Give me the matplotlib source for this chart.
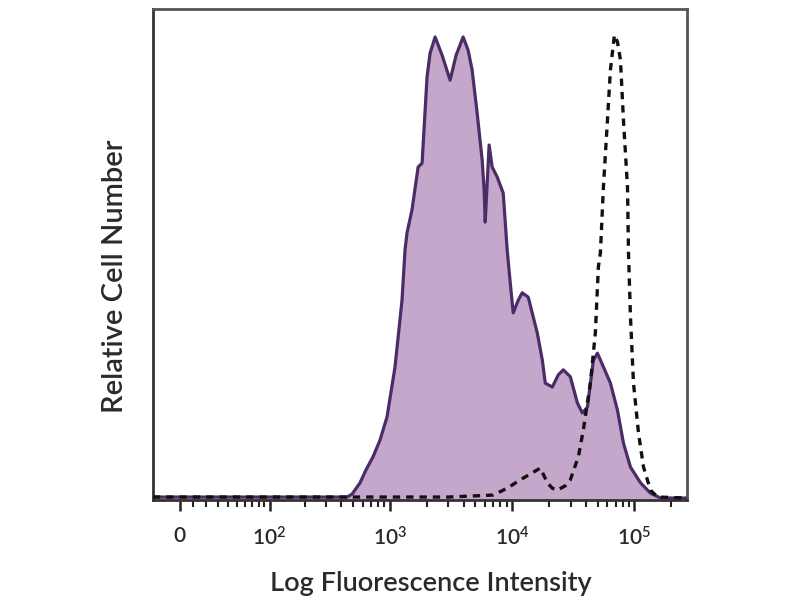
import matplotlib
matplotlib.use("Agg")
import matplotlib.pyplot as plt
import numpy as np

plt.rcParams['font.family'] = ['Lato', 'DejaVu Sans']
plt.rcParams['mathtext.fontset'] = 'custom'
plt.rcParams['mathtext.rm'] = 'Lato:semibold'
plt.rcParams['mathtext.it'] = 'Lato:semibold'
plt.rcParams['mathtext.bf'] = 'Lato:bold'

# Stained sample (filled histogram): fluorescence intensity vs relative count (% of max)
stained_x = [-20, 0, 50, 100, 200, 300, 445, 489, 568, 635, 726, 828, 945, 1099, 1254,
             1327, 1378, 1514, 1698, 1830, 2010, 2128, 2339, 2668, 3102, 3475, 3966,
             4357, 4697, 5163, 5677, 5891, 6010, 6471, 6853, 7530, 8437, 9094, 9633,
             10190, 11200, 12070, 13520, 16030, 17620, 18640, 21270, 23820, 26180,
             29870, 34100, 37480, 41200, 46140, 49770, 55710, 63570, 72560, 81250,
             92730, 112000, 135200, 163300, 270000]
stained_y = [0.6, 0.6, 0.6, 0.6, 0.6, 0.6, 0.6, 1.2, 3.5, 6.1, 8.8, 12.2, 16.9, 27.1, 40.7,
             50.9, 54.4, 59.1, 67.8, 68.6, 86.2, 91.0, 94.3, 90.6, 85.5, 90.6, 94.3,
             91.6, 87.6, 78.8, 69.2, 63.1, 56.6, 72.3, 67.8, 65.8, 62.5, 50.9, 44.2,
             38.1, 40.7, 42.2, 41.3, 34.0, 28.5, 23.8, 23.0, 25.5, 26.5,
             25.1, 19.8, 17.7, 18.9, 28.5, 29.9, 27.1, 23.8, 18.3, 11.6,
             6.7, 3.5, 1.4, 0.4, 0.4]

# Second sample (dashed line)
dashed_x = [-20, 0, 100, 1000, 3000, 6980, 9094, 11640, 14060, 16980, 19370, 21270,
            23380, 27180, 29870, 34750, 38190, 43560, 47860, 50670, 52620, 55710,
            60120, 63570, 68550, 72560, 76800, 81250, 87700, 89350, 92730, 98150,
            107900, 118600, 135200, 154500, 270000]
dashed_y = [0.6, 0.6, 0.6, 0.6, 0.6, 1.0, 2.4, 4.1, 5.3, 6.5, 3.5, 2.4,
            2.0, 2.9, 4.1, 8.8, 14.3, 23.8, 34.0, 47.5, 50.3, 63.7,
            77.4, 87.6, 94.7, 93.3, 89.6, 77.4, 63.7, 50.3, 37.3, 23.8,
            13.6, 6.7, 2.0, 0.6, 0.4]

major_ticks = [0, 100, 1000, 10000, 100000]
major_labels = ['0', r'$\mathregular{10^{2}}$', r'$\mathregular{10^{3}}$',
                r'$\mathregular{10^{4}}$', r'$\mathregular{10^{5}}$']
minor_ticks = ([10 * k for k in range(1, 10)] + [100 * k for k in range(2, 10)] +
               [1000 * k for k in range(2, 10)] + [10000 * k for k in range(2, 10)] +
               [200000])

fill_color = '#c6a7cc'
line_color = '#4a2c66'

fig = plt.figure(figsize=(8, 6), dpi=100)
ax = fig.add_axes([0.191, 0.1667, 0.668, 0.8183])
ax.set_xscale('asinh', linear_width=38)

ax.fill_between(stained_x, stained_y, 0, color=fill_color, lw=0, zorder=1)
ax.plot(stained_x, stained_y, color=line_color, lw=2.3, zorder=3)
ax.plot(dashed_x, dashed_y, color='#111111', lw=2.4, ls=(0, (2.2, 1.8)), zorder=4)

ax.set_xlim(-20, 270000)
ax.set_ylim(0, 100)

ax.set_xticks(major_ticks)
ax.set_xticklabels(major_labels)
for lbl in ax.get_xticklabels():
    lbl.set_fontweight('semibold')
ax.set_xticks(minor_ticks, minor=True)
ax.tick_params(axis='x', which='major', direction='out', length=8, width=1.8,
               color='#222222', labelsize=15, labelcolor='#2a2a2a', pad=11)
ax.tick_params(axis='x', which='minor', direction='out', length=5, width=1.5,
               color='#222222')
ax.set_yticks([])

for side in ['left', 'bottom']:
    ax.spines[side].set_color('#333333')
    ax.spines[side].set_linewidth(2.0)
for side in ['top', 'right']:
    ax.spines[side].set_color('#555555')
    ax.spines[side].set_linewidth(2.0)

ax.set_xlabel('Log Fluorescence Intensity', fontsize=19.5, fontweight='semibold',
              color='#2a2a2a')
ax.xaxis.set_label_coords(0.52, -0.145)
ax.set_ylabel('Relative Cell Number', fontsize=21, fontweight='semibold',
              color='#2a2a2a')
ax.yaxis.set_label_coords(-0.047, 0.456)

fig.savefig('out.png', dpi=100)
